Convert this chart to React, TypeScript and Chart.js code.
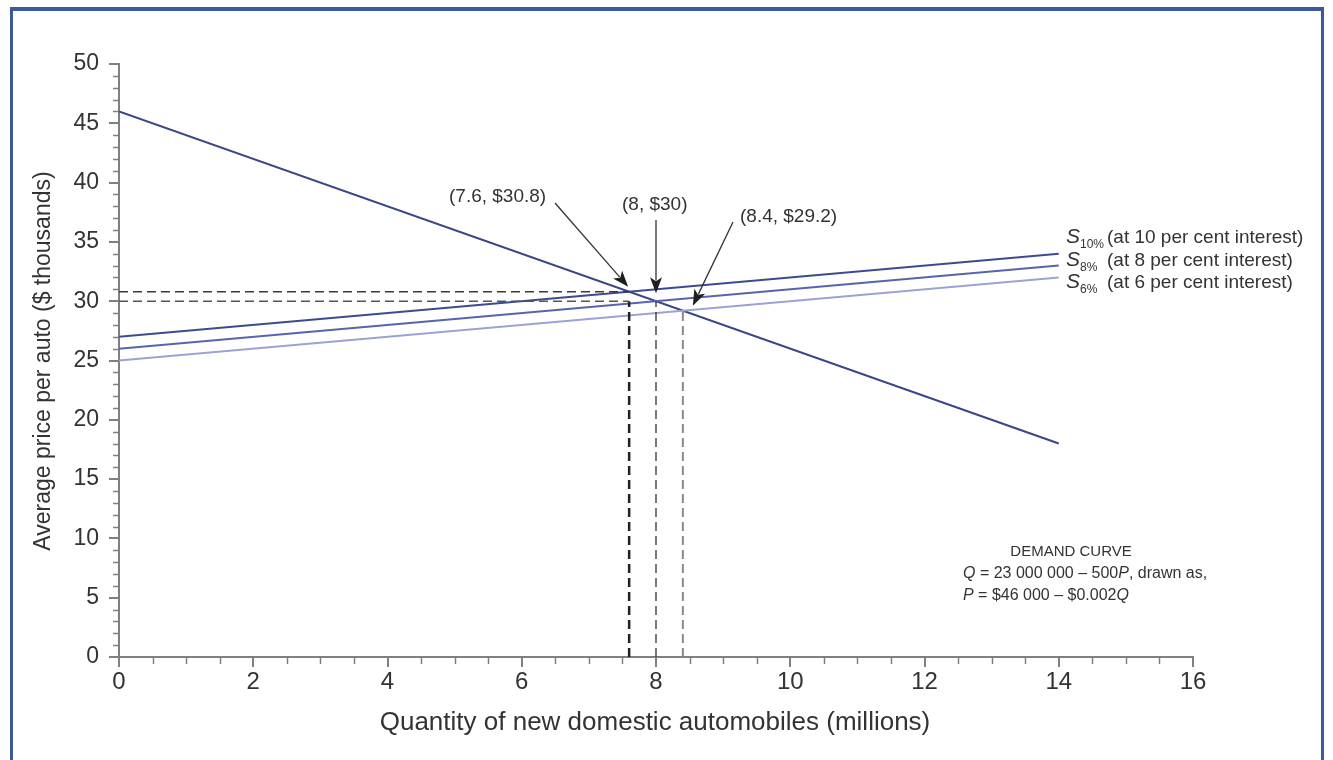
import React, { useEffect, useRef } from "react";
import { Chart, registerables } from "chart.js";

Chart.register(...registerables);

// ---- data ----
const lineQ = [0, 14];
const demandP = [46, 18];
const supply10P = [27, 34];
const supply8P = [26, 33];
const supply6P = [25, 32];
const eqQ = [7.6, 8, 8.4];
const eqP = [30.8, 30, 29.2];
const eqLabels = ["(7.6, $30.8)", "(8, $30)", "(8.4, $29.2)"];
const supplyNames = ["10%", "8%", "6%"];
const supplyDesc = ["(at 10 per cent interest)", "(at 8 per cent interest)", "(at 6 per cent interest)"];
const xTicks = [0, 2, 4, 6, 8, 10, 12, 14, 16];
const yTicks = [0, 5, 10, 15, 20, 25, 30, 35, 40, 45, 50];

const FONT = "'Liberation Sans', Arial, sans-serif";
const TXT = "#333333";

const pts = (ys: number[]) => lineQ.map((q, i) => ({ x: q, y: ys[i] }));

type Seg = { t: string; italic?: boolean; size?: number; dy?: number; x?: number };

function drawSegs(ctx: CanvasRenderingContext2D, segs: Seg[], x: number, y: number, base: number) {
  let cx = x;
  for (const s of segs) {
    if (s.x !== undefined) cx = s.x;
    const size = s.size ?? base;
    ctx.font = `${s.italic ? "italic " : ""}${size}px ${FONT}`;
    ctx.fillText(s.t, cx, y + (s.dy ?? 0));
    cx += ctx.measureText(s.t).width;
  }
  return cx;
}

function arrow(ctx: CanvasRenderingContext2D, x0: number, y0: number, x1: number, y1: number) {
  const ang = Math.atan2(y1 - y0, x1 - x0);
  const L = 16, W = 6;
  ctx.save();
  ctx.strokeStyle = "#333";
  ctx.fillStyle = "#1e1e1e";
  ctx.lineWidth = 1.3;
  ctx.beginPath();
  ctx.moveTo(x0, y0);
  ctx.lineTo(x1 - Math.cos(ang) * L * 0.8, y1 - Math.sin(ang) * L * 0.8);
  ctx.stroke();
  ctx.beginPath();
  ctx.moveTo(x1, y1);
  ctx.lineTo(x1 - Math.cos(ang) * L - Math.sin(ang) * W, y1 - Math.sin(ang) * L + Math.cos(ang) * W);
  ctx.lineTo(x1 - Math.cos(ang) * L * 0.75, y1 - Math.sin(ang) * L * 0.75);
  ctx.lineTo(x1 - Math.cos(ang) * L + Math.sin(ang) * W, y1 - Math.sin(ang) * L - Math.cos(ang) * W);
  ctx.closePath();
  ctx.fill();
  ctx.restore();
}

const annotPlugin = {
  id: "annot",
  afterDraw(chart: any) {
    const ctx: CanvasRenderingContext2D = chart.ctx;
    const xs = chart.scales.x;
    const ys = chart.scales.y;
    const area = chart.chartArea;
    ctx.save();
    // minor ticks
    ctx.strokeStyle = "#808080";
    ctx.lineWidth = 1.5;
    for (let v = 0; v <= 50; v++) {
      if (v % 5 === 0) continue;
      const py = Math.round(ys.getPixelForValue(v)) + 0.5;
      ctx.beginPath();
      ctx.moveTo(area.left - 6, py);
      ctx.lineTo(area.left, py);
      ctx.stroke();
    }
    for (let v = 0.5; v < 16; v += 0.5) {
      if (v % 2 === 0) continue;
      const px = Math.round(xs.getPixelForValue(v)) + 0.5;
      ctx.beginPath();
      ctx.moveTo(px, area.bottom);
      ctx.lineTo(px, area.bottom + 7);
      ctx.stroke();
    }

    ctx.fillStyle = TXT;
    ctx.textBaseline = "alphabetic";

    // axis titles
    ctx.font = `26px ${FONT}`;
    ctx.textAlign = "center";
    ctx.fillText("Quantity of new domestic automobiles (millions)", 655, 730);
    ctx.save();
    ctx.font = `23px ${FONT}`;
    ctx.translate(50, 361);
    ctx.rotate(-Math.PI / 2);
    ctx.fillText("Average price per auto ($ thousands)", 0, 0);
    ctx.restore();

    // supply labels
    ctx.textAlign = "left";
    const lblY = [243, 266, 288];
    for (let i = 0; i < 3; i++) {
      drawSegs(
        ctx,
        [
          { t: "S", italic: true, size: 21 },
          { t: supplyNames[i], size: 12, dy: 5 },
          { t: supplyDesc[i], x: 1107 },
        ],
        1066,
        lblY[i],
        19
      );
    }

    // demand text
    ctx.font = `15px ${FONT}`;
    ctx.textAlign = "center";
    ctx.fillText("DEMAND CURVE", 1071, 556);
    ctx.textAlign = "left";
    drawSegs(ctx, [{ t: "Q", italic: true }, { t: " = 23 000 000 \u2013 500" }, { t: "P", italic: true }, { t: ", drawn as," }], 963, 578, 16);
    drawSegs(ctx, [{ t: "P", italic: true }, { t: " = $46 000 \u2013 $0.002" }, { t: "Q", italic: true }], 963, 600, 16);

    // equilibrium arrows
    const lblPos = [
      { tx: 449, ty: 202, sx: 555, sy: 203, dx: -1, dy: -5 },
      { tx: 622, ty: 210, sx: 656, sy: 220, dx: 0, dy: -8 },
      { tx: 740, ty: 222, sx: 733, sy: 222, dx: 10, dy: -5 },
    ];
    for (let i = 0; i < 3; i++) {
      const p = lblPos[i];
      const px = xs.getPixelForValue(eqQ[i]) + p.dx;
      const py = ys.getPixelForValue(eqP[i]) + p.dy;
      ctx.font = `19px ${FONT}`;
      ctx.fillStyle = TXT;
      ctx.fillText(eqLabels[i], p.tx, p.ty);
      arrow(ctx, p.sx, p.sy, px, py);
    }
    ctx.restore();
  },
};

export default function App() {
  const ref = useRef<HTMLCanvasElement | null>(null);
  useEffect(() => {
    if (!ref.current) return;
    const dash = (color: string, w: number, d: number[], data: any[]) => ({
      data,
      borderColor: color,
      borderWidth: w,
      borderDash: d,
      pointRadius: 0,
      fill: false,
    });
    const datasets: any[] = [
      dash("#3a3a3a", 1.5, [9, 5], [{ x: 0, y: eqP[0] }, { x: eqQ[0], y: eqP[0] }]),
      dash("#555555", 1.5, [9, 5], [{ x: 0, y: eqP[1] }, { x: eqQ[0], y: eqP[1] }]),
      dash("#222222", 2.5, [9, 5], [{ x: eqQ[0], y: 0 }, { x: eqQ[0], y: eqP[1] }]),
      dash("#333333", 1.3, [9, 5], [{ x: eqQ[1], y: 0 }, { x: eqQ[1], y: eqP[1] }]),
      dash("#8a8a8a", 2, [9, 5], [{ x: eqQ[2], y: 0 }, { x: eqQ[2], y: eqP[2] }]),
      { data: pts(supply6P), borderColor: "#9da2d4", borderWidth: 2, pointRadius: 0 },
      { data: pts(supply8P), borderColor: "#5864ac", borderWidth: 2, pointRadius: 0 },
      { data: pts(supply10P), borderColor: "#3c4b91", borderWidth: 2, pointRadius: 0 },
      { data: pts(demandP), borderColor: "#3a4688", borderWidth: 2, pointRadius: 0 },
    ];
    const chart = new Chart(ref.current, {
      type: "line",
      data: { datasets },
      options: {
        animation: false,
        responsive: false,
        maintainAspectRatio: false,
        events: [],
        layout: { padding: { left: 59, right: 140, top: 64, bottom: 43 } },
        plugins: { legend: { display: false }, tooltip: { enabled: false } },
        elements: { line: { tension: 0 } },
        scales: {
          x: {
            type: "linear",
            min: 0,
            max: 16,
            afterFit: (s: any) => { s.height = 60; },
            afterBuildTicks: (s: any) => { s.ticks = xTicks.map((v) => ({ value: v })); },
            grid: { drawOnChartArea: false, drawTicks: true, tickLength: 10, color: "#808080", lineWidth: 2 },
            border: { color: "#808080", width: 2 },
            ticks: { color: TXT, padding: 1, font: { family: FONT, size: 24 }, maxRotation: 0 },
          },
          y: {
            type: "linear",
            min: 0,
            max: 50,
            afterFit: (s: any) => { s.width = 60; },
            afterBuildTicks: (s: any) => { s.ticks = yTicks.map((v) => ({ value: v })); },
            grid: { drawOnChartArea: false, drawTicks: true, tickLength: 10, color: "#808080", lineWidth: 2 },
            border: { color: "#808080", width: 2 },
            ticks: { color: TXT, padding: 10, font: { family: FONT, size: 23 } },
          },
        },
      },
      plugins: [annotPlugin],
    } as any);
    return () => chart.destroy();
  }, []);
  return (
    <div style={{ position: "fixed", left: 0, top: 0, width: 1333, height: 760, background: "#fff" }}>
      <div
        style={{
          position: "absolute",
          left: 10,
          top: 7,
          width: 1314,
          height: 800,
          borderLeft: "3px solid #3a5a9c",
          borderRight: "3px solid #3a5a9c",
          borderTop: "4px solid #3a5a9c",
          boxSizing: "border-box",
        }}
      />
      <canvas ref={ref} width={1333} height={760} style={{ position: "absolute", left: 0, top: 0 }} />
    </div>
  );
}
